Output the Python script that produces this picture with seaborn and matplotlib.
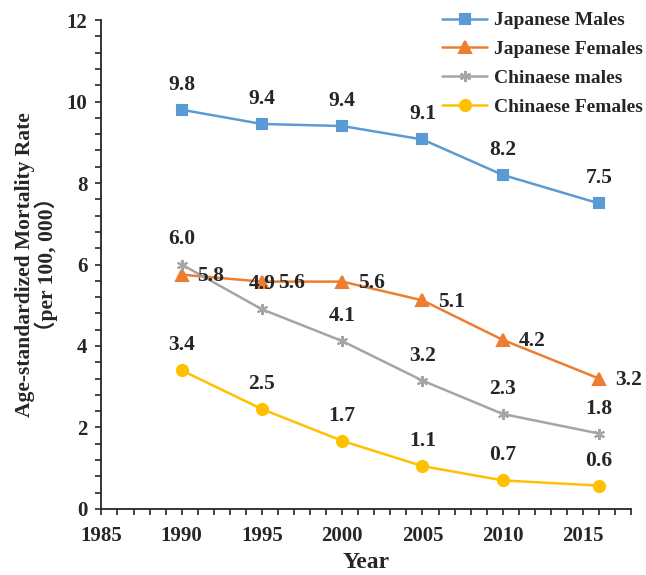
import seaborn as sns
import matplotlib.pyplot as plt
from matplotlib.ticker import MultipleLocator

years = [1990, 1995, 2000, 2005, 2010, 2016]
japanese_males = [9.8, 9.45, 9.4, 9.07, 8.2, 7.5]
japanese_females = [5.75, 5.58, 5.58, 5.12, 4.15, 3.2]
chinese_males = [6.0, 4.9, 4.12, 3.15, 2.33, 1.85]
chinese_females = [3.4, 2.45, 1.67, 1.05, 0.7, 0.57]

jm_labels = ["9.8", "9.4", "9.4", "9.1", "8.2", "7.5"]
jf_labels = ["5.8", "5.6", "5.6", "5.1", "4.2", "3.2"]
cm_labels = ["6.0", "4.9", "4.1", "3.2", "2.3", "1.8"]
cf_labels = ["3.4", "2.5", "1.7", "1.1", "0.7", "0.6"]

sns.set_style("ticks")
plt.rcParams['font.family'] = ['Liberation Serif', 'Noto Sans CJK SC']
plt.rcParams['font.weight'] = 'bold'

fig = plt.figure(figsize=(6.46, 5.75), dpi=100)
ax = fig.add_axes([0.157, 0.115, 0.82, 0.85])

series = [
    ("Japanese Males", japanese_males, jm_labels, "#5B9BD5", "s", 7, (0, 18)),
    ("Japanese Females", japanese_females, jf_labels, "#ED7D31", "^", 8, (21, -1)),
    ("Chinaese males", chinese_males, cm_labels, "#A5A5A5", (6, 2, 0), 8, (0, 18)),
    ("Chinaese Females", chinese_females, cf_labels, "#FFC000", "o", 8, (0, 18)),
]

for name, vals, labels, color, marker, ms, off in series:
    sns.lineplot(x=years, y=vals, ax=ax, color=color, marker=marker,
                 markersize=ms, markeredgecolor=color, markeredgewidth=1.5,
                 linewidth=1.8, label=name)
    for x, y, t in zip(years, vals, labels):
        ax.annotate(t, (x, y), xytext=off, textcoords="offset points",
                    ha="center", va="center", fontsize=15.5, fontweight="bold")

ax.set_xlim(1985, 2018)
ax.set_ylim(0, 12)
ax.xaxis.set_major_locator(MultipleLocator(5))
ax.xaxis.set_minor_locator(MultipleLocator(1))
ax.yaxis.set_major_locator(MultipleLocator(2))
ax.yaxis.set_minor_locator(MultipleLocator(0.4))
ax.tick_params(which="both", direction="out", length=4, width=1.2, labelsize=15)
ax.tick_params(axis="y", pad=6)
ax.tick_params(axis="x", pad=8)
for lab in ax.get_xticklabels() + ax.get_yticklabels():
    lab.set_fontweight("bold")
for s in ["left", "bottom"]:
    ax.spines[s].set_linewidth(1.3)
sns.despine(ax=ax)

ax.set_xlabel("Year", fontsize=17, fontweight="bold", labelpad=5)
ax.set_ylabel("Age-standardized Mortality Rate\n（per 100, 000）", fontsize=15.5,
              fontweight="bold", labelpad=6, linespacing=1.0)

ax.legend(loc="upper right", bbox_to_anchor=(1.022, 1.01), bbox_transform=fig.transFigure,
          frameon=False, fontsize=14, handlelength=2.3, labelspacing=0.58,
          handletextpad=0.35)

fig.savefig("out.png", dpi=100)
